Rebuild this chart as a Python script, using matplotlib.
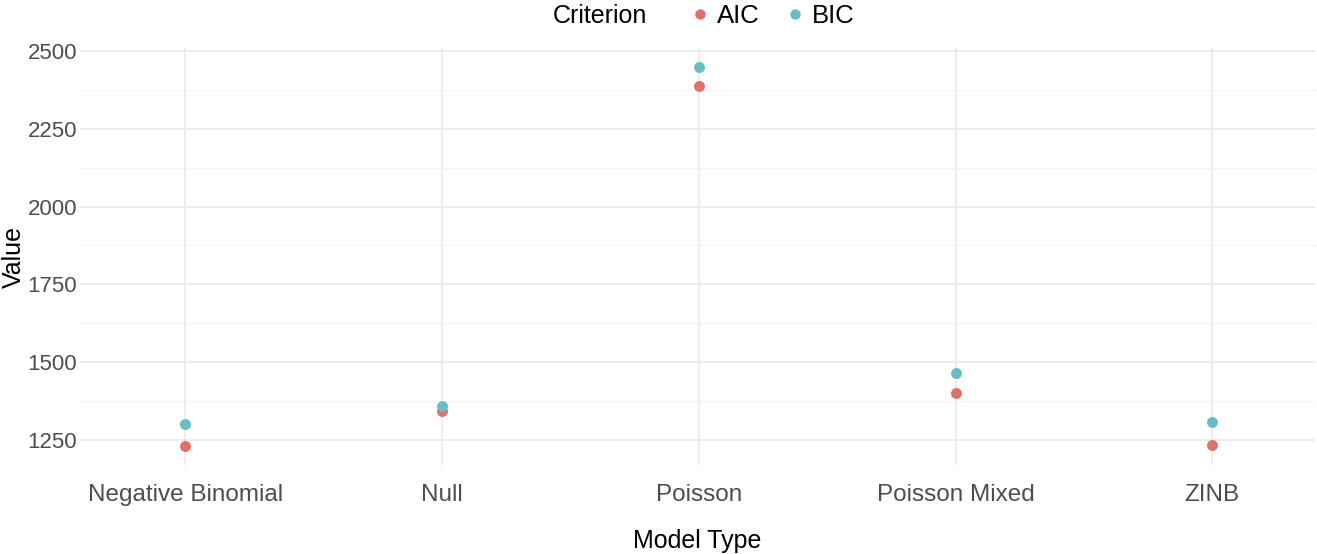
import matplotlib.pyplot as plt
from matplotlib.lines import Line2D

# Datos
modelos = ["Negative Binomial", "Null", "Poisson", "Poisson Mixed", "ZINB"]
aic = [1229, 1343, 2389, 1399, 1232]
bic = [1300, 1359, 2450, 1464, 1305]

colores = {"AIC": "#E0716B", "BIC": "#68BEC3"}

plt.rcParams["font.family"] = ["Liberation Sans", "DejaVu Sans"]

fig = plt.figure(figsize=(13.17, 5.54), dpi=100)
ax = fig.add_axes([80 / 1317, 1 - 465 / 554, 1235 / 1317, 417 / 554])

x = range(len(modelos))
ax.scatter(x, aic, s=62, color=colores["AIC"], linewidths=0, zorder=3)
ax.scatter(x, bic, s=62, color=colores["BIC"], linewidths=0, zorder=3)

ax.set_xlim(-0.41, 4.4)
ax.set_ylim(1168, 2511)
ax.set_xticks(list(x))
ax.set_xticklabels(modelos)
ax.set_yticks([1250, 1500, 1750, 2000, 2250, 2500])
ax.set_yticks([1375, 1625, 1875, 2125, 2375], minor=True)

# Estilo minimal
for s in ax.spines.values():
    s.set_visible(False)
ax.grid(True, which="major", color="#EBEBEB", linewidth=1.3, zorder=0)
ax.grid(True, which="minor", axis="y", color="#F2F2F2", linewidth=0.8, zorder=0)
ax.tick_params(which="both", length=0)
ax.tick_params(axis="x", labelsize=17.5, colors="#4D4D4D", pad=14)
ax.tick_params(axis="y", labelsize=16, colors="#4D4D4D", pad=2)
ax.set_axisbelow(True)

ax.set_xlabel("Model Type", fontsize=18, labelpad=16)
ax.set_ylabel("Value", fontsize=18)
ax.yaxis.set_label_coords(-0.044, 0.5)

# Leyenda arriba
fig.text(553 / 1317, 1 - 16 / 554, "Criterion", fontsize=18, va="center", ha="left")
handles = [Line2D([], [], marker="o", linestyle="", markersize=7.5, color=colores[k],
                  markeredgewidth=0) for k in ["AIC", "BIC"]]
fig.legend(handles, ["AIC", "BIC"], loc="center left", bbox_to_anchor=(687 / 1317, 1 - 16 / 554),
           ncol=2, frameon=False, fontsize=18.5, handletextpad=0.15, columnspacing=0.9,
           handlelength=1.0, borderpad=0, borderaxespad=0)

plt.savefig("out.png", dpi=100)
plt.close()
